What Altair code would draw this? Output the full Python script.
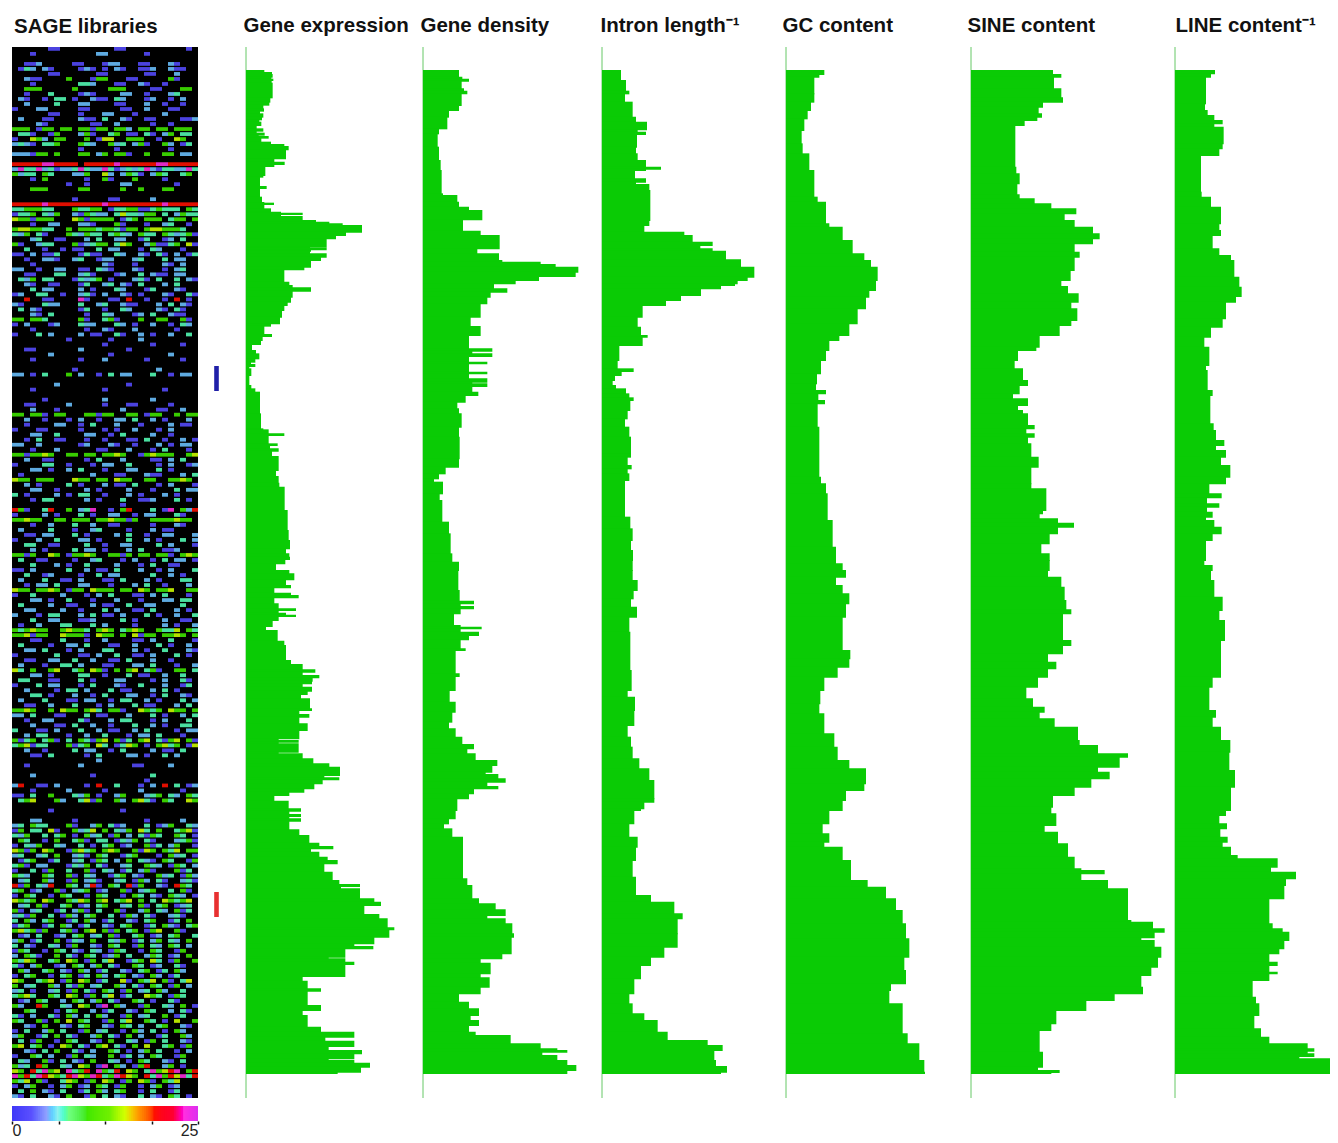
import altair as alt
import pandas as pd

TITLES = ["Gene expression", "Gene density", "Intron length\u207b\u00b9", "GC content", "SINE content", "LINE content\u207b\u00b9"]
GREEN = "#0acb05"

# (row, level) step outlines; upper and lower half of each profile
GE_TOP = [(30,75),(36,98),(42,100),(50,96),(56,102),(60,97),(68,100),(112,93),(125,90),(134,72),(145,74),(152,62),(160,72),(170,68),(178,60),(185,66),(195,52),(205,72),(212,52),(218,76),(224,58),(228,88),(233,66),(245,95),(252,135),(258,148),(268,140),(295,105),(305,136),(312,105),(318,78),(345,72),(350,62),(378,82),(384,62),(410,68),(426,75),(428,104),(432,75),(445,95),(455,125),(458,190),(462,125),(468,190),(480,230),(485,270),(490,310),(495,368),(515,320),(525,290),(535,262),(560,212),(563,262),(568,215),(572,212),(580,262),(590,245),(600,215),(620,195),(628,135),(665,150),(675,160),(682,215),(692,160),(710,155),(725,145),(735,135),(750,128),(770,122),(790,95),(797,75),(822,98),(828,70),(840,65),(852,38),(870,50),(880,60),(895,48),(905,35),(912,48),(918,30),(925,36),(945,30),(975,36),(985,48),(995,62),(1060,65),(1105,72),(1108,88),(1120,135),(1125,88),(1150,115),(1155,92),(1165,118),(1172,98),(1188,118),(1230,110),(1248,118),(1268,120),(1280,136),(1350,145),(1410,148),(1440,152),(1465,140),(1480,150),(1490,152),(1497,138),(1510,110)]
GE_BOT = [(0,150),(10,165),(28,140),(45,155),(52,105),(68,155),(75,178),(82,105),(100,118),(115,170),(120,118),(128,140),(134,170),(138,118),(150,100),(168,80),(180,115),(212,135),(225,140),(270,155),(282,190),(298,228),(305,190),(315,240),(322,220),(332,218),(340,190),(350,218),(362,205),(372,185),(385,212),(415,218),(420,180),(432,210),(440,180),(460,205),(480,180),(505,118),(510,178),(515,118),(520,178),(545,118),(550,190),(565,222),(580,270),(590,302),(615,255),(622,300),(628,250),(640,225),(655,195),(665,150),(675,105),(692,148),(715,185),(722,150),(732,185),(738,150),(745,185),(752,150),(778,180),(795,210),(818,240),(828,282),(835,215),(845,240),(860,265),(870,295),(880,255),(905,280),(930,300),(942,362),(948,305),(955,362),(985,405),(995,425),(1005,375),(1032,420),(1045,445),(1072,465),(1078,450),(1100,405),(1120,345),(1128,402),(1135,318),(1160,268),(1165,318),(1175,345),(1182,318),(1218,190),(1232,205),(1255,245),(1262,205),(1305,245),(1320,190),(1335,205),(1370,245),(1385,345),(1400,258),(1412,345),(1428,268),(1440,368),(1450,345),(1465,268),(1470,345),(1478,392),(1490,365),(1505,295)]
GD_TOP = [(30,660),(50,670),(56,690),(62,668),(85,675),(92,685),(100,668),(135,660),(150,630),(170,625),(205,600),(220,596),(260,600),(300,605),(330,608),(400,612),(405,655),(425,660),(440,690),(450,730),(478,672),(512,725),(525,782),(565,715),(580,780),(600,790),(605,905),(612,950),(620,1018),(635,1010),(648,900),(660,830),(670,765),(685,805),(695,755),(710,745),(730,725),(770,695),(798,725),(825,690),(865,760),(872,700),(880,760),(888,690),(905,745),(910,690),(935,745),(940,690),(955,745),(965,700),(970,745),(978,700),(995,718),(1005,680),(1025,655),(1045,660),(1060,668),(1100,660),(1130,662),(1195,660),(1220,620),(1240,600),(1255,585),(1265,612),(1300,602),(1320,610),(1385,630),(1420,635),(1480,640),(1505,660)]
GD_BOT = [(0,658),(60,662),(92,705),(100,665),(108,705),(115,665),(130,645),(165,665),(170,728),(175,665),(185,720),(195,690),(208,665),(235,680),(240,650),(310,662),(318,650),(360,632),(395,650),(425,640),(455,630),(475,650),(500,670),(522,705),(535,685),(550,710),(570,775),(585,760),(605,740),(612,778),(625,800),(635,745),(648,778),(655,705),(670,690),(685,655),(720,650),(745,630),(760,615),(775,640),(800,672),(925,685),(945,700),(985,720),(1000,770),(1018,800),(1035,745),(1045,800),(1060,820),(1090,825),(1100,818),(1150,790),(1165,725),(1178,755),(1210,725),(1222,752),(1250,725),(1270,660),(1295,690),(1315,720),(1335,695),(1350,720),(1365,690),(1385,710),(1395,815),(1420,905),(1435,955),(1440,985),(1445,910),(1455,955),(1470,985),(1485,1012),(1500,985)]
IL_TOP = [(30,80),(60,95),(92,105),(100,92),(125,115),(170,125),(185,158),(208,130),(215,155),(222,128),(260,125),(280,130),(300,155),(320,200),(326,155),(330,122),(355,155),(365,125),(372,165),(390,168),(480,165),(495,150),(515,270),(525,295),(545,355),(555,318),(565,355),(572,395),(598,440),(620,480),(650,460),(660,430),(670,422),(675,380),(685,320),(705,260),(720,215),(735,145),(770,130),(800,140),(825,160),(830,145),(855,75),(900,70),(925,118),(933,82),(945,62),(960,55),(975,65),(985,95),(1000,105),(1012,118),(1020,108),(1050,100),(1075,92),(1100,105),(1130,110),(1180,110),(1190,100),(1215,112),(1225,100),(1240,105),(1260,92),(1370,108),(1405,115),(1440,110),(1470,116),(1500,115)]
IL_BOT = [(0,115),(30,130),(60,118),(85,110),(110,128),(140,105),(185,108),(300,112),(360,100),(380,122),(420,120),(465,100),(500,110),(530,115),(565,135),(595,165),(630,180),(685,180),(695,150),(715,140),(720,120),(760,105),(800,130),(830,125),(870,115),(920,125),(960,125),(975,170),(995,240),(1030,265),(1045,250),(1090,250),(1130,210),(1160,170),(1185,140),(1225,120),(1270,105),(1300,115),(1330,150),(1350,190),(1385,220),(1410,340),(1425,385),(1440,360),(1470,365),(1488,398),(1505,380)]
GC_TOP = [(30,690),(42,675),(50,660),(100,660),(125,650),(150,640),(175,630),(210,622),(250,625),(280,645),(330,660),(410,670),(425,695),(490,705),(500,745),(540,775),(580,810),(600,830),(620,850),(660,845),(678,845),(690,825),(710,815),(745,790),(790,765),(825,735),(840,705),(870,695),(900,680),(940,668),(970,665),(990,695),(1000,672),(1020,692),(1030,670),(1100,675),(1250,680),(1270,695),(1300,700),(1380,715),(1460,725),(1510,745)]
GC_BOT = [(0,755),(20,725),(45,745),(70,765),(100,755),(140,745),(240,768),(265,765),(290,730),(320,690),(360,678),(400,675),(430,690),(490,720),(530,730),(570,765),(595,815),(640,810),(660,755),(690,745),(720,705),(760,685),(790,705),(815,690),(830,745),(870,770),(930,820),(950,875),(985,905),(1020,925),(1060,935),(1105,945),(1160,930),(1200,935),(1240,890),(1260,885),(1300,925),(1390,940),(1420,975),(1470,990),(1505,992)]
SI_TOP = [(28,265),(42,290),(50,268),(85,290),(112,295),(125,235),(140,222),(160,232),(170,218),(180,180),(195,152),(320,155),(340,165),(370,158),(403,165),(415,210),(430,260),(445,335),(460,300),(480,330),(500,385),(520,405),(535,385),(550,330),(575,345),(590,330),(630,318),(660,290),(678,310),(700,342),(725,320),(745,338),(780,320),(795,285),(825,225),(860,215),(870,160),(900,150),(925,175),(960,190),(975,165),(1000,145),(1015,190),(1035,160),(1050,175),(1060,190),(1095,210),(1105,185),(1120,210),(1130,190),(1150,200),(1190,222),(1220,200),(1270,200),(1285,245),(1350,235),(1360,225),(1375,280),(1388,328),(1400,280),(1420,255),(1450,230),(1480,255),(1500,255)]
SI_BOT = [(0,250),(20,290),(50,300),(90,305),(118,320),(130,295),(210,320),(225,295),(250,250),(275,275),(295,250),(320,220),(350,185),(385,205),(410,240),(425,225),(445,270),(470,340),(510,345),(525,400),(550,490),(560,465),(590,400),(605,435),(625,380),(650,330),(675,265),(710,260),(730,275),(765,240),(785,280),(820,310),(860,330),(895,350),(900,420),(910,350),(930,430),(955,490),(1050,500),(1055,565),(1075,600),(1085,570),(1102,530),(1110,570),(1130,590),(1160,580),(1190,560),(1215,530),(1250,535),(1270,450),(1290,365),(1320,275),(1360,260),(1380,225),(1445,235),(1490,220),(1500,285),(1506,260)]
LI_TOP = [(28,752),(40,740),(50,725),(130,722),(150,730),(165,750),(180,775),(190,750),(200,778),(250,775),(265,765),(285,710),(395,712),(410,740),(440,770),(490,765),(510,770),(525,745),(565,765),(585,800),(600,810),(650,825),(680,832),(708,815),(725,785),(775,775),(800,740),(830,720),(860,735),(915,725),(930,730),(990,745),(1005,738),(1090,748),(1110,755),(1140,780),(1155,755),(1170,785),(1190,770),(1215,798),(1250,785),(1270,735),(1300,772),(1312,728),(1330,765),(1340,728),(1355,745),(1370,725),(1380,750),(1400,772),(1420,745),(1440,725),(1500,720),(1515,745)]
LI_BOT = [(0,740),(30,750),(80,775),(120,765),(150,782),(210,770),(270,770),(320,745),(350,735),(420,755),(440,745),(470,770),(510,798),(545,795),(600,812),(650,800),(720,785),(735,765),(760,788),(775,768),(800,790),(815,775),(830,800),(855,820),(865,940),(890,920),(905,995),(925,965),(945,960),(985,915),(1060,925),(1075,955),(1085,975),(1110,960),(1135,945),(1150,915),(1175,940),(1185,915),(1205,940),(1210,915),(1230,865),(1280,875),(1300,885),(1335,870),(1375,890),(1400,915),(1420,1030),(1435,1050),(1442,1030),(1450,1050),(1458,1005),(1465,1130)]

BASE_LEVELS = [20, 552, 23, 575, 19, 632]
PANEL_WIDTHS = [177, 179, 184, 185, 204, 163]
TITLE_DX = [-2, -2, -1, -3, -3, 1]
ALL_SERIES = [(GE_TOP, GE_BOT), (GD_TOP, GD_BOT), (IL_TOP, IL_BOT), (GC_TOP, GC_BOT), (SI_TOP, SI_BOT), (LI_TOP, LI_BOT)]

ROW_MIN, ROW_MAX, ROW_END = -69, 3084, 3012

# SAGE matrix, read by eye row by row: . none, b blue, p periwinkle, c cyan, g green, y yellow, r red, m magenta
HEAT = [
# 0
"......bb.........bb..........b.",
"...b..........pp......b........",
"...............................",
"..bbp.....bb...bpp...bb...pb...",
".bcp.pb....bpb.b.pb..bbp..pbb..",
"......bb......bb......bb...p...",
"..pbb....g...bgg...bb.....gb...",
"...b.......ccp...bb..pb..b.....",
"..ggg.....g.....ggg....bb...gg.",
"..b...c....bpb....pp..b...pc...",
# 10
".pb..b.cc.b..pbb.cp...bp..b.p..",
"..p....c...pp....bb...p..b..b..",
"b...pp.....bb.....bb..p...bb...",
"......bb...b...pp...b....p.....",
".p...bb....pbb.c..pb..bb....bbp",
"....pb.......bb..p.....b..b....",
"ggg.bgg.gg.ggbgg.ggp.gg.gg.ggg.",
".ccb..bg...pgb..cg.bb.cb.pg.cc.",
"b..ygp.gg...g.byy..ggg..b..yg..",
"pcpb.ccg...gcp..gpc.pgb..gp.bc.",
# 20
"...........b.....b........b....",
"pppbgg.g...gg.pg.ggb..g..gg.pp.",
"...............................",
"rrrrrmmrrrr.rrrrrmrrrrrrmmrrrrr",
"pmccmpcbppcmcppmcbpcpcmpbccppmc",
"gpcc.gc...ppg..yp.pgcb.pgc..cg.",
"...b.g......b..gb...g....b.....",
".........b..b.....pp.......b...",
"...ggg.....gg.....g..g...gg....",
"...............................",
# 30
"..........b.....bb.....p.......",
"rrrrrmrrrrrrrrrmrrrrrrrrrmrrrrr",
"ccgggcc...gccgg.bccggbbcgccc.gc",
"bccg.cpg..pbgcpp.cyccpgg.c.pgcc",
"yggbggg...ygbgggg.bcg.ggg.cgg.g",
"...b..pp...ppb...gb...b..pc..b.",
"gyyggcc..g.gggcggcbgg.gyygggc..",
"cpg.cb...gcpgcc.cgcp.gcc.gcpcgb",
"...pc..bb...p.c..pp..bc..bp.c..",
"gb..pcc...gbpcgg.cyg..pgbbcg.yb",
# 40
"..c..b..b.bb..c.pp...b.cp...b..",
"bb.p.bbc...bcbb..cp..pb.cb.p.bc",
"..b..ppb..pc..bpp...pc...c.pp..",
"...b...........pb...b....pb.p..",
"pp..b..pp..bb.cpb...pb...b.pc..",
"..bb...cc..pcb...bp..c.pbb.pp..",
".cpg.cc...bcpcg.b...pcb.c..c.pb",
"..pb..bb...bc..pc.pb.c...p.c...",
"...c.pp....p.b...cp...bc...pb..",
"bp..cc..b..pcb.p..pb.b...pb..cb",
# 50
"..r..bb....mb...bb.r..b..b.r.b.",
"pb...cpp...c..pc..pbb...p.c.pb.",
".c.pb......bc..b..cp....pb.cb..",
"...pb.c.....b..cp...bp.c..pbb..",
"gg.ggc.....gb..cgb...g..gg..gb.",
"b.p...bp...cpp...cp.b..p..b.cp.",
"...b........b..pb...p......b...",
"b...c.p....p.bb..cb..p.b..p..c.",
".........b......b....p.........",
"...............b.......b....b..",
# 60
"..bb.......p.......b...........",
"......p.........b.........p....",
"...b.......b...p......b.....b..",
"...............................",
"..........b.............p......",
"pp.b.c...g.p..b.c.pp...c..b.pp.",
"...............................",
".......p...........b...........",
"...b...........b.........b.....",
"...............................",
# 70
".....b.........p.......p.......",
"..bb.....p.....b...bb.....b....",
"...p...b..........p.....bb..p..",
"gg.ggb.gg...ggbgg..gg.bgg..g.gg",
"..p..b...b.p..b..pp.c..p.b...p.",
"..b....pp..b.c...p...b....p.bb.",
"b...bb.....b...b.b..p...b.p....",
"...pp..c....pp..b.c....p..b....",
"..b.c..bb...b..b...bb.c..b..p.b",
"pp..p......bp...pb..b...p.b.pp.",
# 80
"...b...p......bb...p...b.c...b.",
"ggbggyg..gg.gg.ggyg..bgyggg..gy",
"..p..bb.....b.c...p....bb.p.c..",
"b....cc..b...b.pp..c....b.p..bp",
"...pp.b..p.c...b...pp...c.b....",
".b...........p...bb...pbb...p.c",
"ygg.ggg...ygg.gg.ygg..gg..ggyg.",
"..p.b....c.b...p.bb.c...b.p...b",
"...pp..b....p.b....p...b...c.pp",
"c.b....p.b.cc..b...p.b...p.b...",
# 90
"...b.cc.....p.b...c..bbp...c.b.",
"..................b............",
"rgb..cr..g.pcm..b.gr...c.bm.gpr",
"b....p.b...c.b..pp..b.pp...cb..",
"ggygg..gg.ggg.ggyggbg..ggggygg.",
"...b..p...c..p..bb.....b...pb..",
".p....c...b..pc....b...p.bb....",
"..bb.pp...c.b....p.c..b..pp...p",
"b...p..c...pp.b....c..p.b...c.p",
"..cc..bb....c..b..pp....c.p...b",
# 100
"...p.b....c.pp.b...p.c...bbp...",
"ggbg..yg.bggyg..ggbg.gg.ggb.gyg",
".c..bb....b..pc...b.p..b.c.pp.b",
"...c...p.b..c....p...b.c..bb...",
"bb.p.....c..p.bb.c...p..b.p...c",
"..c..bp....b..c.pp.....c..p.b..",
".p...c..bb.p...bb.c...p.b...cc.",
"..b.pp.c...pp...b...p.c..b...p.",
"ygg.ggyg.bgg.yggg.gg.yg.ggy..gg",
"b..c....p...b.p.c...bb.p.c...b.",
# 110
"...pp.b..c...b...p...b...pp.cc.",
".c....p..bb..p.bb..c..pp....c..",
"..pp....p..b...c.p..bb.c...p.b.",
"p...b.cc...p.c.bb.p...c.b..p..c",
"...c..pp...bbp....c.b....p..bb.",
".b..p...cc...c.p....b....p.b..p",
"gcgygg..gyggc.gyg.cgyg..gccy.gc",
"ggybgg..ygggb.ygg.g.ybgg.ggyg.g",
"...bb...c...b..p....bb.p..c...b",
".c....b..pp.c...bb..p...c.b..p.",
# 120
"..pp.c...b.p...cc...p.b..c...pb",
"b......c...bb.p..c..bb.p...c.b.",
"..bb..pp..c..p..bb.c...p..b....",
".p...b..cc.p...bb...pp.c...b..p",
"yc.g..gy..cg.ygb.g.gy.cgb..gg.c",
"...pp.b....cc..b...c.bb..p..c..",
".cc...bb...c.b...pp....b.p..cb.",
"b...c.pp...b.c...pb..c...p..bc.",
"..p....b.cc.p...c.bb...p.c.b...",
"...cc.b...p..b.c...pp..b.c..pb.",
# 130
".p...c...bb.pp..b.cc..p.b...c.p",
"..bb..p...c...b.p...c.bb...p.c.",
"ggyg..g.ygg.gyc.ggb..ygcg.ygg.g",
"pp.c...bb...c.bb...p...c.b..p.c",
"..b..pp....cb...p.cc...b.p...c.",
"...p...bb.c..p..b...c..p.b..cc.",
"c...bb.p...c..p.bb..p.c....b.pp",
"..p.cc...b..p..c...b.pp.c...b..",
"gbcg.cgb.c.gcbgy.gbc.gy.cbgy.gb",
"cgybcc...gbcg.yc.bcyg.b.gycg.by",
# 140
"..p..b....c.pp..b.c....p.bb.c..",
"...bb.c.....b.c....pp.b..c.p...",
"..............p................",
"..b........p........bb....p....",
"...............................",
"...p.........b.........c.......",
"......................b........",
"pr..bb.p....b.r..c...b.p.r.c.bp",
"...b.....p.....b.....p......b..",
"bb.c..g...cpg.b..pg...pcg.cp.gc",
# 150
".cgy...gp..cybg..gp.gycb.gc..yg",
"...............................",
"......b...........b............",
"...............................",
"...pp.....b...........b.....p..",
"pc.gcc...gb..pg.cbp...c.bpg..cp",
"bg.cc.yb..gpcy.g.cpg.yc.g..cgyb",
"cpg..c.cg.b.gpc.bg.p.cbgc..gc.b",
".gc..b.g..cgb.cc.bcpg.cb...pcgb",
"b.cpg..cp..c.b.cg.bp..gbc.pg..b",
# 160
"ygbg.yg..bgycg.gyg..gbyg.gcy.gg",
"pc..pc.g..pcb.gc..bcg...b.gpc.b",
".bcg..bc..pc.bgc.p.g.cpb.gc..bg",
"cgb.pp...bcpg.cb..pc..gcp.bgc.p",
"b..c.bg..c..gb.cp.bc.pgb...gbc.",
"gcp..gc..gb.cp..bcg.pb..gpc.bgp",
".pc..gp..bg.pcb..pc.bgp.cb..pcb",
"rbg.cpr..gc.prb.gc.rbg..pb.rgc.",
"cg.bp..gb.pcg.bp..gb.pcg..c.gb.",
"b.gc..b.gc..b.gc..b.gc.pb.gcp.b",
# 170
"ygcg.yg..gcyg.gy.cgy.g.c.ygcgy.",
".pc.gb..cg.bp.cg..pc.gb.cg.bpc.",
"gb.pc..bc.pgb.c..gb..pg.cp.gbc.",
"pcbg..c.bgp.cg..c.bgp.cb..pcb..",
"c.gp.cg..bc.gp.bc..pb.cg..bc.g.",
"bcg..bc.gp.bc..pb.cg..bc.gpb.cg",
"gycgbg..cgb.gy.gbg.cg.bgy..gb..",
".bp.c..bp.cg.pc.gb..cg.bp.cg..c",
"pg.bc..g.bcp.g..cpg.bc.pg.cp.g.",
"c.pb..cp.bg..pb.gc..bg.cp.gc.p.",
# 180
"bgc..b.gc.pb.cp.bgc..b.gc..bg..",
"p.gcb..g.cb.gc.bpg.c..pgc.bp.g.",
"gcyg..cg.yg.bg.cy..bcg.yc.bg..g",
"cb.pg..bp.gc.pg.cb..gc.bp..cb..",
".gp..cg.pb.gp.bc..pb.cg.bc.gp..",
"b.cg..b.cg.bc.gp.cg.pb.gp.bc...",
"yg..cgy.bg.yg.bc..yb.gcy.gb.cy.",
"g.pc..gp.cbg.pc..gp.cb.gc.bg.p.",
"pc.b..pc.bg.cb.gc.bg.pc.gp..c..",
"cgyc..gc.yg.bg.cy.bc..ygc.bgc..",
# 190
".bp.gc..p.gc.pg.cb..gc.b..cb...",
"gp..rg..cp.yg.bm.gp..bg..cp.g.b",
"..gc...b.cg..p.bc..pb.gc..p.cb.",
"cb.p..cb.gp.c.gp..bg.pc..g.bc..",
"gc..gb.g.y.gc..bg.cy..gc.b.y..g",
"..pb.g..pb.cg..pb.gc.p..cg..pb.",
"b.c..pg.c..bg.pc..b.gp.c.b.gp..",
"pg..bc.g.cb..pg.cb.g.p..bc..gp.",
".c.bg..b.gc..pb.g..cp.bg.c..pb.",
"gy.cg.b.yg.cb.gy.cb.g.y..cg.bg.",
# 200
"..pb.c.g..cb.p..gc.b.pg.c..b.p.",
"b..gc.p..bg.cp..g.bc.p.gc..bg..",
".cp..gb.c.pb.g..cp.b.gc..pb.c..",
"gpc.rg..cp.yg.bm.gp.bgr..pg.b..",
"yg.rcmgy.mcgr.mgcr.yg.cmgyrm.gr",
"mgrcmrygcrmygmrcgmryg.rcmgrymcr",
"gcy.gb..cyg.bg.yg.bg.ygb.gcy...",
"b.pg..b.pg.bp.gc.bg..b.pg.bp...",
".c.g.pb.c..bc.gp.cg..b.c..bc...",
"pb.c..pb.g..bg.c.pb..c.pb.gc.b.",
]

LETTERS = {"b": 2, "p": 5, "c": 7, "g": 10, "y": 15, "r": 19, "m": 23}
RAMP_DOMAIN = [0, 2.5, 4.5, 6, 7.5, 10, 13, 15, 17, 19, 21.5, 23, 25]
RAMP_RANGE = ["#4038f8", "#5a50ff", "#90a0ff", "#90f0f0", "#70ff80", "#40e800", "#70f000", "#d0ff00", "#ff9000", "#ff1000", "#ff0030", "#ff30e0", "#d830f0"]
RAMP_STEPS = [0.25 * i for i in range(100)]
TICK_VALUES = [0, 6.25, 12.5, 18.75, 25]
MARKERS = {"row": [888, 2466], "end": [963, 2541], "color": ["#2020a8", "#e83030"]}

title_style = dict(anchor="start", fontSize=20.5, fontWeight="bold", font="Liberation Sans", color="#111111", offset=10)
row_scale = alt.Scale(domain=[ROW_MIN, ROW_MAX], reverse=True, zero=False, nice=False)
color_scale = alt.Scale(domain=RAMP_DOMAIN, range=RAMP_RANGE)


def outline(top, bottom, base):
    pts = [(r - 30, v - base) for r, v in top] + [(r + 1500, v - base) for r, v in bottom]
    ends = [p[0] + 3 for p in pts[1:]] + [ROW_END]
    ends[-2] = ROW_END if ends[-2] > ROW_END else ends[-2]
    pts[0] = (0, pts[0][1])
    return pd.DataFrame({"row": [p[0] for p in pts], "end": ends, "val": [p[1] for p in pts], "zero": 0})


def profile(i):
    frame = outline(ALL_SERIES[i][0], ALL_SERIES[i][1], BASE_LEVELS[i])
    xs = alt.Scale(domain=[0, PANEL_WIDTHS[i] * 3], nice=False, zero=False)
    axis_line = alt.Chart(pd.DataFrame({"zero": [0]})).mark_rule(color="#66c866", strokeWidth=1).encode(
        x=alt.X("zero:Q", scale=xs, axis=None))
    bars = alt.Chart(frame).mark_rect(color=GREEN, clip=True).encode(
        x=alt.X("zero:Q", scale=xs, axis=None), x2="val:Q",
        y=alt.Y("row:Q", scale=row_scale, axis=None), y2="end:Q")
    return alt.layer(axis_line, bars).properties(
        width=PANEL_WIDTHS[i], height=1051,
        title=alt.TitleParams(TITLES[i], dx=TITLE_DX[i], **title_style))


cells = []
for r, text in enumerate(HEAT):
    for c, ch in enumerate(text):
        if ch in LETTERS:
            cells.append({"r": r, "c": c, "v": LETTERS[ch]})

heat = alt.Chart(pd.DataFrame(cells)).mark_rect(opacity=0.88).encode(
    x=alt.X("c:O", scale=alt.Scale(domain=list(range(31)), paddingInner=0, paddingOuter=0), axis=None),
    y=alt.Y("r:O", scale=alt.Scale(domain=list(range(len(HEAT))), paddingInner=0.25, paddingOuter=0), axis=None),
    color=alt.Color("v:Q", scale=color_scale, legend=None),
).properties(width=186, height=1051, view=alt.ViewConfig(fill="black", stroke=None),
             title=alt.TitleParams("SAGE libraries", dx=2, **title_style))

marks = alt.Chart(pd.DataFrame(MARKERS)).mark_rule(strokeWidth=4.6).encode(
    x=alt.value(18.5),
    y=alt.Y("row:Q", scale=row_scale, axis=None), y2="end:Q",
    color=alt.Color("color:N", scale=None, legend=None),
).properties(width=48, height=1051, title=alt.TitleParams(" ", **title_style))

ramp = pd.DataFrame({"v": RAMP_STEPS, "v2": [s + 0.5 for s in RAMP_STEPS]})
bar = alt.Chart(ramp).mark_rect(clip=True).encode(
    x=alt.X("v:Q", scale=alt.Scale(domain=[0, 25], nice=False),
            axis=alt.Axis(values=TICK_VALUES, title=None, domain=False, grid=False, tickSize=3, tickColor="#111111",
                          tickWidth=1.5, labelFontSize=16, labelFont="Liberation Sans", labelColor="#222222", labelPadding=-2,
                          labelExpr="datum.value == 0 || datum.value == 25 ? datum.label : ''")),
    x2="v2:Q",
    color=alt.Color("v:Q", scale=color_scale, legend=None),
).properties(width=186, height=15)

top = alt.hconcat(heat, marks, *[profile(i) for i in range(6)], spacing=0, bounds="flush")
chart = alt.vconcat(top, bar, spacing=7).properties(
    autosize=alt.AutoSizeParams(type="none"),
    padding={"left": 4, "top": 39, "right": 1318, "bottom": 1091}, background="white"
).configure_view(stroke=None).resolve_scale(color="independent")

chart.save("out.html", embed_options={"renderer": "svg", "actions": False})
